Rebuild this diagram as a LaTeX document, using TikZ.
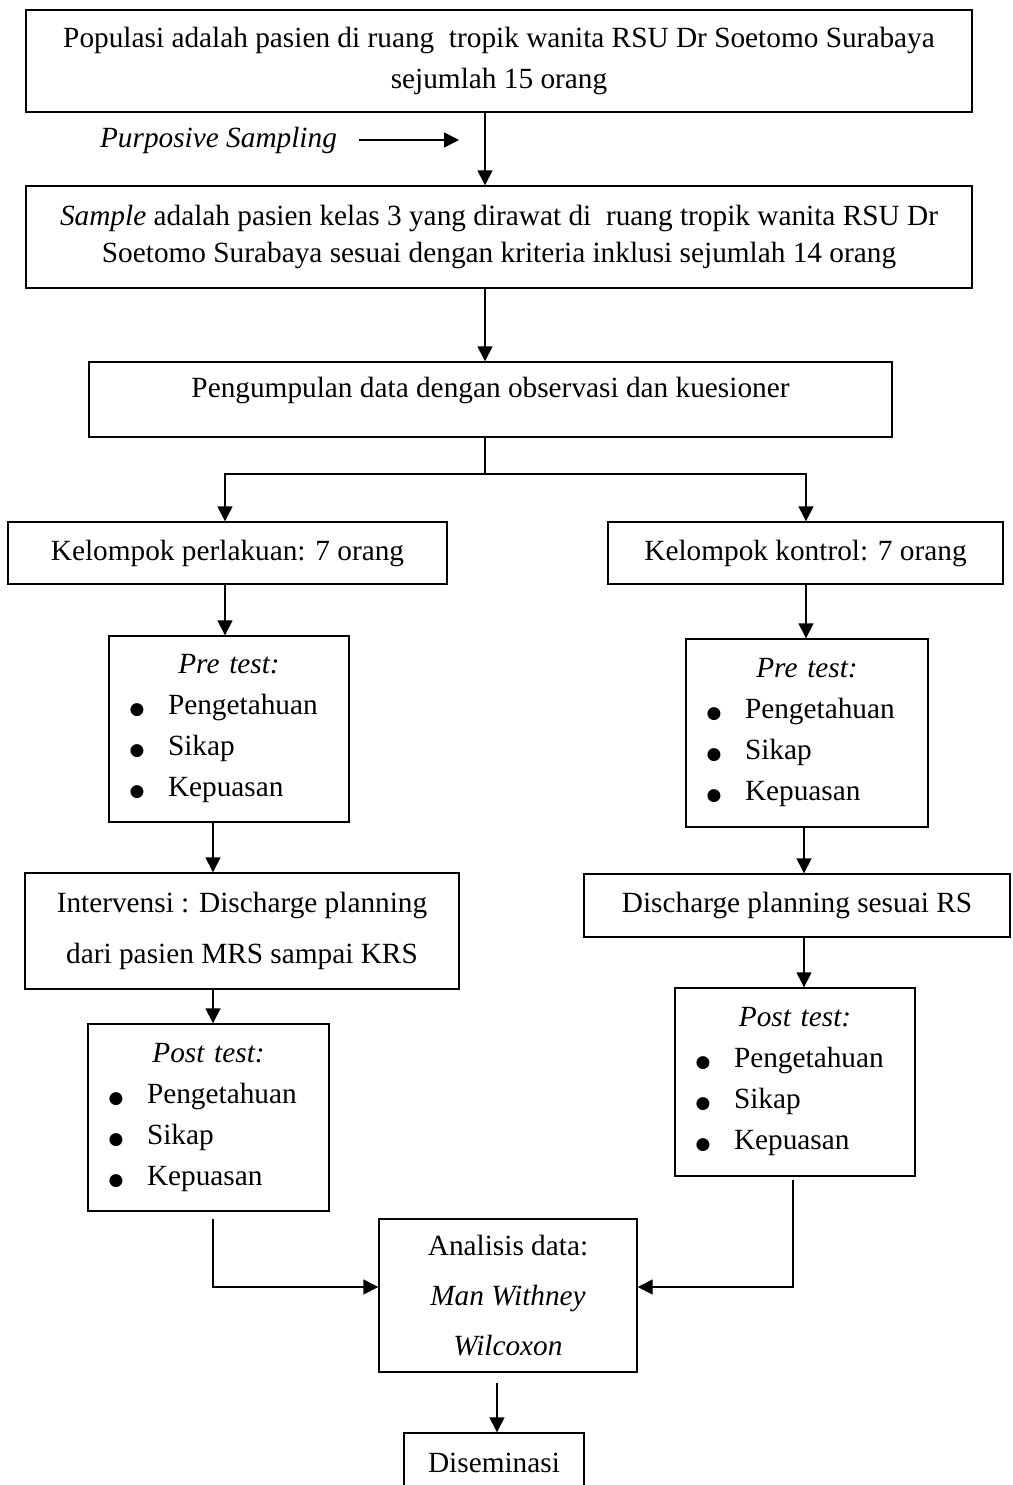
\documentclass[tikz,border=0pt]{standalone}
\usepackage{fontspec}
\setmainfont{Liberation Serif}
\newfontfamily\dejavu{DejaVu Sans}
\usetikzlibrary{arrows.meta}
\newcommand\bul{{\dejavu\fontsize{17}{17}\selectfont ●}}
\newcommand\bitem[2]{\makebox[#1][l]{\hspace*{28pt}\makebox[0pt]{\bul}\hspace*{31pt}#2}}
\begin{document}
\begin{tikzpicture}[x=1pt,y=-1pt,
  box/.style={draw, line width=1.4pt, inner sep=0pt, align=center, font=\fontsize{29.3}{41}\selectfont},
  arr/.style={line width=1.4pt, -{Triangle[length=15pt,width=15pt]}},
  ln/.style={line width=1.4pt}]
\useasboundingbox (0,0) rectangle (1012,1485);

% coordinates for connector x positions
\coordinate (xa) at (485,0);
\coordinate (xl) at (225,0);
\coordinate (xr) at (806,0);
\coordinate (xl2) at (213,0);
\coordinate (xr2) at (804,0);
\coordinate (xr3) at (793,0);
\coordinate (xc) at (497,0);
\coordinate (yin) at (0,1287);

\node[box, minimum width=946pt, minimum height=102pt] (top) at (499,61)
  {Populasi adalah pasien di ruang~ tropik wanita RSU Dr Soetomo Surabaya\\ sejumlah 15 orang};

\node[font=\itshape\fontsize{29.3}{41}\selectfont, inner sep=0pt] (ps) at (218.5,140) {Purposive Sampling};
\coordinate (psB) at (459,142);
\draw[arr] ([xshift=22pt]ps.east) -- (ps.east -| psB);

\node[box, minimum width=946pt, minimum height=102pt] (samp) at (499,237)
  {\textit{Sample} adalah pasien kelas 3 yang dirawat di~ ruang tropik wanita RSU Dr\\[-4pt]
   Soetomo Surabaya sesuai dengan kriteria inklusi sejumlah 14 orang};
\draw[arr] (top.south -| xa) -- (samp.north -| xa);

\node[box, minimum width=803pt, minimum height=75pt, text height=20pt, text depth=24pt] (kump) at (490.5,399.5)
  {Pengumpulan data dengan observasi dan kuesioner};
\draw[arr] (samp.south -| xa) -- (kump.north -| xa);

\node[box, minimum width=439pt, minimum height=62pt] (kl) at (227.5,553) {Kelompok perlakuan: 7 orang};
\node[box, minimum width=395pt, minimum height=62pt] (kk) at (805.5,553) {Kelompok kontrol: 7 orang};
\coordinate (split) at (485,474);
\draw[ln] (kump.south -| xa) -- (split);
\draw[arr] (split) -| (kl.north -| xl);
\draw[arr] (split) -| (kk.north -| xr);

\node[box, minimum width=240pt, text width=240pt, minimum height=186pt] (prel) at (229,729)
  {\textit{Pre test:}\\ \bitem{240pt}{Pengetahuan}\\ \bitem{240pt}{Sikap}\\ \bitem{240pt}{Kepuasan}};
\node[box, minimum width=242pt, text width=242pt, minimum height=188pt] (prer) at (807,733)
  {\textit{Pre test:}\\ \bitem{242pt}{Pengetahuan}\\ \bitem{242pt}{Sikap}\\ \bitem{242pt}{Kepuasan}};
\draw[arr] (kl.south -| xl) -- (prel.north -| xl);
\draw[arr] (kk.south -| xr) -- (prer.north -| xr);

\node[box, minimum width=434pt, minimum height=116pt] (intv) at (242,931)
  {Intervensi : Discharge planning\\[10pt] dari pasien MRS sampai KRS};
\node[box, minimum width=426pt, minimum height=63pt] (disc) at (797,905.5) {Discharge planning sesuai RS};
\draw[arr] (prel.south -| xl2) -- (intv.north -| xl2);
\draw[arr] (prer.south -| xr2) -- (disc.north -| xr2);

\node[box, minimum width=241pt, text width=241pt, minimum height=187pt] (postl) at (208.5,1117.5)
  {\textit{Post test:}\\ \bitem{241pt}{Pengetahuan}\\ \bitem{241pt}{Sikap}\\ \bitem{241pt}{Kepuasan}};
\node[box, minimum width=240pt, text width=240pt, minimum height=188pt] (postr) at (795,1082)
  {\textit{Post test:}\\ \bitem{240pt}{Pengetahuan}\\ \bitem{240pt}{Sikap}\\ \bitem{240pt}{Kepuasan}};
\draw[arr] (intv.south -| xl2) -- (postl.north -| xl2);
\draw[arr] (disc.south -| xr2) -- (postr.north -| xr2);

\node[box, minimum width=258pt, minimum height=153pt] (anal) at (508,1295.5)
  {Analisis data:\\[9pt] \textit{Man Withney}\\[9pt] \textit{Wilcoxon}};
\draw[arr] ([yshift=-7pt]postl.south -| xl2) |- (anal.west |- yin);
\draw[arr] ([yshift=-3pt]postr.south -| xr3) |- (anal.east |- yin);

\node[box, minimum width=180pt, minimum height=59pt] (dise) at (494,1462.5) {Diseminasi};
\draw[arr] ([yshift=-10pt]anal.south -| xc) -- (dise.north -| xc);
\end{tikzpicture}
\end{document}
